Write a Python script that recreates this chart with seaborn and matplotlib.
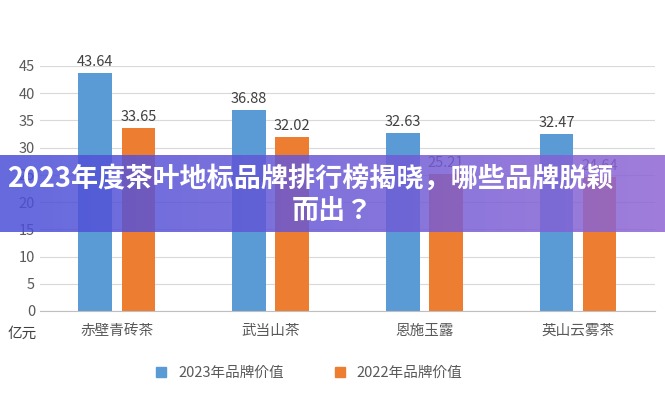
import numpy as np
import pandas as pd
import matplotlib.pyplot as plt
import seaborn as sns
from matplotlib import font_manager
from matplotlib.colors import LinearSegmentedColormap
from matplotlib.patches import Patch

# locate a sans CJK font file and register it
cjk = sorted(f for f in font_manager.findSystemFonts()
             if 'CJK' in f and 'Sans' in f and 'Serif' not in f)
pref = [f for f in cjk if 'Regular' in f] or cjk
family = 'DejaVu Sans'
if pref:
    for f in cjk:
        font_manager.fontManager.addfont(f)
    family = font_manager.FontProperties(fname=pref[0]).get_name()
plt.rcParams['font.family'] = [family, 'Noto Sans CJK SC', 'DejaVu Sans']

brands = ['赤壁青砖茶', '武当山茶', '恩施玉露', '英山云雾茶']
value_2023 = [43.64, 36.88, 32.63, 32.47]
value_2022 = [33.65, 32.02, 25.21, 24.64]
series = ['2023年品牌价值', '2022年品牌价值']

df = pd.DataFrame({
    'brand': brands * 2,
    'value': value_2023 + value_2022,
    'series': [series[0]] * 4 + [series[1]] * 4,
})

fig = plt.figure(figsize=(6.65, 4.0), dpi=100)
ax = fig.add_axes([0.06, 0.2225, 0.925, 0.6125])
sns.barplot(data=df, x='brand', y='value', hue='series', ax=ax, saturation=1,
            palette=['#5B9BD5', '#ED7D31'], width=0.56, gap=0.22, legend=False)

for cont in ax.containers:
    ax.bar_label(cont, fmt='%.2f', padding=3, fontsize=10.5, color='#404040')

ax.set_ylim(0, 45)
ax.set_xlim(-0.5, 3.5)
ax.set_yticks(range(0, 50, 5))
ax.grid(axis='y', color='#d9d9d9', linewidth=0.8)
ax.set_axisbelow(True)
for s in ['top', 'right', 'left']:
    ax.spines[s].set_visible(False)
ax.spines['bottom'].set_color('#bfbfbf')
ax.tick_params(axis='both', length=0, labelsize=10.5, colors='#595959')
ax.tick_params(axis='x', pad=9)
ax.set_xlabel('')
ax.set_ylabel('')
fig.text(0.012, 0.155, '亿元', fontsize=10.5, color='#404040')

handles = [Patch(color='#5B9BD5'), Patch(color='#ED7D31')]
fig.legend(handles, series, loc='center', bbox_to_anchor=(0.465, 0.067), ncol=2,
           frameon=False, fontsize=10.5, handlelength=0.7, handleheight=0.7,
           columnspacing=3.5, labelcolor='#595959')

# banner overlay
bax = fig.add_axes([0, (400 - 232) / 400, 1, 77 / 400])
cmap = LinearSegmentedColormap.from_list('b', ['#4a4fd8', '#6a5ad6', '#8f66d4'])
bax.imshow(np.linspace(0, 1, 256)[None, :], aspect='auto', cmap=cmap, alpha=0.85,
           extent=[0, 1, 0, 1])
bax.set_axis_off()
bax.text(0.466, 0.70, '2023年度茶叶地标品牌排行榜揭晓，哪些品牌脱颖', ha='center', va='center',
         fontsize=19.5, fontweight='bold', color='white', transform=bax.transAxes)
bax.text(0.5, 0.27, '而出？', ha='center', va='center',
         fontsize=19.5, fontweight='bold', color='white', transform=bax.transAxes)

fig.savefig('out.png', dpi=100)
